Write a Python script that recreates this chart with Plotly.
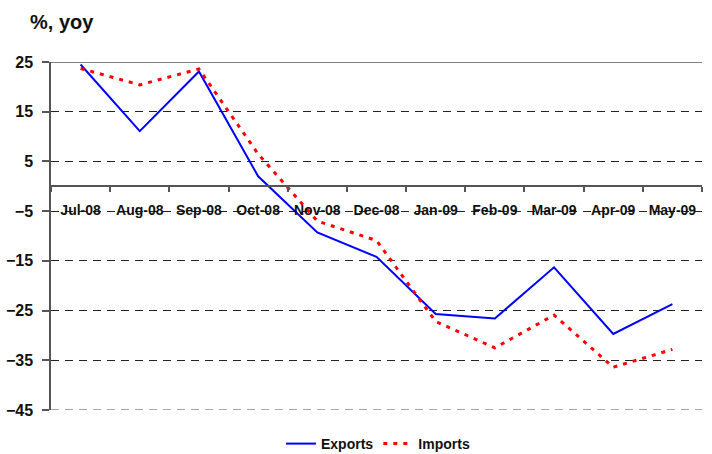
import plotly.graph_objects as go

# Monthly trade growth, % year on year
months = ["Jul-08", "Aug-08", "Sep-08", "Oct-08", "Nov-08", "Dec-08",
          "Jan-09", "Feb-09", "Mar-09", "Apr-09", "May-09"]
exports = [24.5, 11.1, 23.1, 2.0, -9.3, -14.2, -25.7, -26.6, -16.3, -29.7, -23.7]
imports = [23.7, 20.4, 23.6, 6.5, -7.0, -10.9, -27.2, -32.5, -25.9, -36.4, -32.8]

y_ticks = [25, 15, 5, -5, -15, -25, -35, -45]
y_min, y_max = -45, 25

FONT = "Liberation Sans, Arial, sans-serif"
AXIS_GREY = "#555555"
TEXT = "#111111"

fig = go.Figure()
fig.add_trace(go.Scatter(
    x=months, y=exports, name="Exports", mode="lines",
    line=dict(color="#0000FF", width=2),
))
fig.add_trace(go.Scatter(
    x=months, y=imports, name="Imports", mode="lines",
    line=dict(color="#FF0000", width=3, dash="4px,6px"),
))

# frame lines along the top (solid) and bottom (dashed, lighter) of the value range
fig.add_shape(type="line", xref="paper", x0=0, x1=1, yref="y", y0=y_max, y1=y_max,
              line=dict(color=AXIS_GREY, width=1.5), layer="below")
fig.add_shape(type="line", xref="paper", x0=0, x1=1, yref="y", y0=y_min, y1=y_min,
              line=dict(color="#8a8a8a", width=1.5, dash="8px,6px"), layer="below")

fig.update_layout(
    width=712, height=454,
    margin=dict(l=51, r=10, t=62, b=44, autoexpand=False),
    paper_bgcolor="white", plot_bgcolor="white",
    font=dict(family=FONT, size=14, color=TEXT, weight="bold"),
    title=dict(text="%, yoy", x=30 / 712, xanchor="left", y=1 - 22 / 454,
               yanchor="middle",
               font=dict(family=FONT, size=20, color=TEXT, weight="bold")),
    showlegend=True,
    legend=dict(orientation="h", xref="container", x=281 / 712, xanchor="left",
                yref="container", y=1 - 444 / 454, yanchor="middle",
                font=dict(family=FONT, size=14, color=TEXT, weight="bold"),
                bgcolor="rgba(0,0,0,0)"),
    xaxis=dict(
        type="category", range=[-0.5, len(months) - 0.5], anchor="free",
        position=(0 - y_min) / (y_max - y_min), automargin=False,
        showline=True, linecolor=AXIS_GREY, linewidth=1.5,
        ticks="outside", tickson="boundaries", ticklen=5, tickcolor=AXIS_GREY,
        tickwidth=1.5, ticklabelstandoff=11, tickangle=0,
        showgrid=False, zeroline=False,
        tickfont=dict(family=FONT, size=14, color=TEXT, weight="bold"),
    ),
    yaxis=dict(
        range=[y_min, y_max], tickvals=y_ticks, automargin=False,
        showline=True, linecolor=AXIS_GREY, linewidth=1.5,
        ticks="outside", ticklen=7, tickcolor=AXIS_GREY, tickwidth=1.5,
        ticklabelstandoff=6,
        showgrid=True, gridcolor="#222222", gridwidth=1, griddash="8px,6px",
        zeroline=False,
        tickfont=dict(family=FONT, size=16, color=TEXT, weight="bold"),
    ),
)

fig.write_html("out.html")
